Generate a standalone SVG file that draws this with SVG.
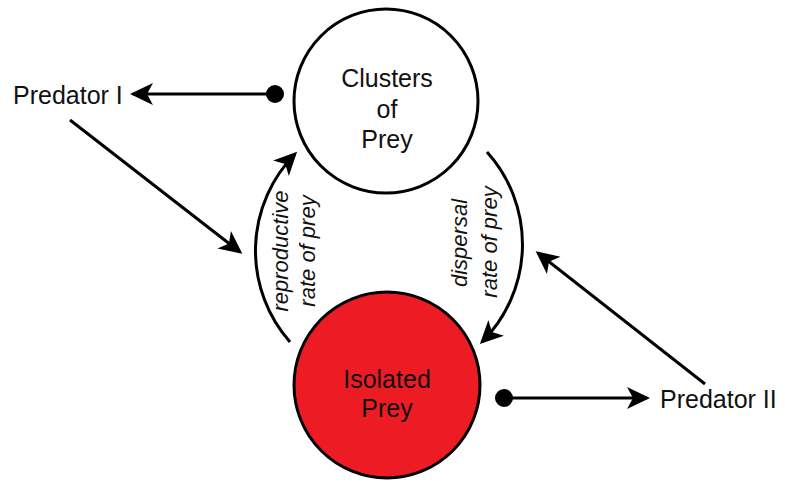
<svg xmlns="http://www.w3.org/2000/svg" width="785" height="487" viewBox="0 0 785 487">
<style>
.lbl{font-family:"Liberation Sans",Arial,sans-serif;font-size:25px;fill:#111}
.it{font-family:"Liberation Sans",Arial,sans-serif;font-size:22px;font-style:italic;fill:#111;text-anchor:middle}
.node{stroke:#000;stroke-width:3}
.con{fill:none;stroke:#000;stroke-width:3;marker-end:url(#ah)}
</style>
<defs>
<marker id="ah" markerUnits="userSpaceOnUse" markerWidth="26" markerHeight="24" refX="20" refY="11" orient="auto" overflow="visible">
<path d="M23,11 L0,0 L6,11 L0,22 Z" fill="#000"/>
</marker>
</defs>
<rect width="785" height="487" fill="#fff"/>
<g id="clusters">
<circle class="node" cx="386" cy="101" r="92" fill="#fff"/>
<text class="lbl" x="387" y="87" text-anchor="middle">Clusters</text>
<text class="lbl" x="387" y="118" text-anchor="middle">of</text>
<text class="lbl" x="387" y="148" text-anchor="middle">Prey</text>
</g>
<g id="isolated">
<circle class="node" cx="387" cy="385" r="93" fill="#ED1C24"/>
<text class="lbl" x="387" y="388" text-anchor="middle">Isolated</text>
<text class="lbl" x="387" y="417" text-anchor="middle">Prey</text>
</g>
<g id="predator1">
<text class="lbl" x="13" y="104">Predator I</text>
</g>
<g id="predator2">
<text class="lbl" x="660" y="408">Predator II</text>
</g>
<g id="connectors">
<circle cx="275" cy="94" r="9" fill="#000"/>
<line class="con" x1="275" y1="94" x2="133" y2="94"/>
<circle cx="504" cy="398" r="9" fill="#000"/>
<line class="con" x1="504" y1="398" x2="647" y2="398"/>
<line class="con" x1="70" y1="120" x2="240" y2="252"/>
<line class="con" x1="705" y1="384" x2="538" y2="253"/>
<path class="con" d="M290,342 A138,138 0 0 1 295,154"/>
<path class="con" d="M487,152 A138,138 0 0 1 482,342"/>
<text class="it" transform="translate(288,251) rotate(-90)">reproductive</text>
<text class="it" transform="translate(315,251) rotate(-90)">rate of prey</text>
<text class="it" transform="translate(467,243) rotate(-90)">dispersal</text>
<text class="it" transform="translate(497,242) rotate(-90)">rate of prey</text>
</g>
</svg>
